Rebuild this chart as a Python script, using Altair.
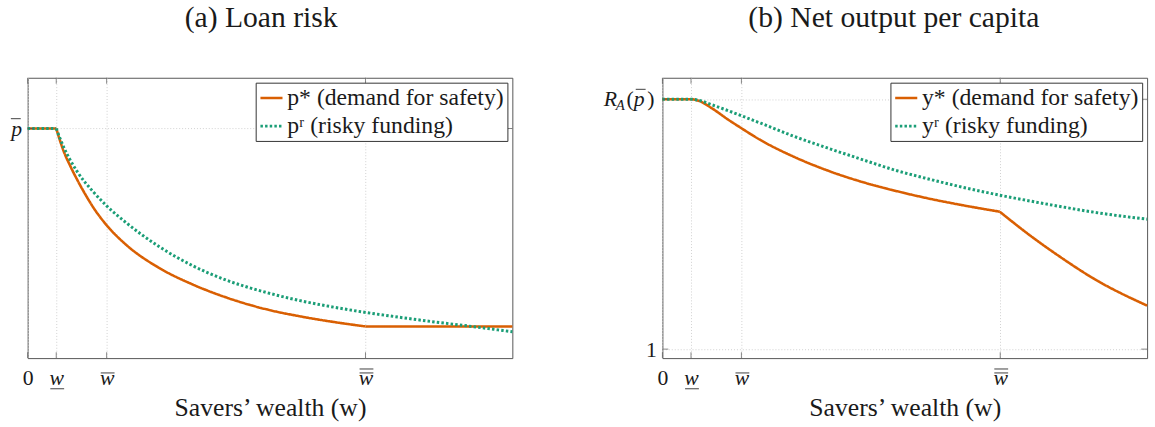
import json
import altair as alt
import pandas as pd

FONT = "Liberation Serif"
ORANGE = "#d95f02"
GREEN = "#1b9e77"
FRAME = "#555555"
GRID = "#d0d0d0"
TXT = "#1a1a1a"
W, H = 491, 284

# ---- shared x axis (savers' wealth) ----
x_tick_values = [0, 0.59, 1.63, 6.97]
x_tick_labels = ["0", "w", "w", "w"]
x_underlined = [0.59]          # w  (underline)
x_overlined = [1.63, 6.97]     # w̄ and w̿ (first bar)
x_double_overlined = [6.97]    # w̿ (second bar)
x_title = "Savers\u2019 wealth (w)"

# ---- panel (a) Loan risk ----
a_series = ["p* (demand for safety)", "p\u02B3 (risky funding)"]
a_star_x = [0, 0.59, 0.75, 0.88, 1.02, 1.19, 1.36, 1.63, 2.04, 2.71, 3.40, 4.07, 4.95, 5.62, 6.31, 6.97, 10]
a_star_y = [81.9, 81.9, 73.5, 68.5, 63.7, 58.4, 53.6, 47.4, 40.3, 32.2, 26.3, 21.8, 17.3, 14.9, 12.9, 11.3, 11.3]
a_star_kinks = [0.59, 6.97]
a_r_x = [0, 0.59, 0.75, 0.88, 1.02, 1.36, 1.63, 2.04, 2.71, 3.40, 4.07, 4.95, 5.62, 6.31, 6.97, 7.66, 8.35, 9.02, 10]
a_r_y = [81.9, 81.9, 75.0, 70.6, 66.6, 59.2, 54.3, 48.2, 39.8, 33.0, 28.0, 23.3, 20.5, 18.2, 16.3, 14.6, 13.0, 11.6, 9.4]
a_r_kinks = [0.59]
a_y_domain = [0, 100]
a_y_tick_values = [81.9]
a_y_tick_labels = ["p"]        # p̄ (bar drawn as a tick mark)

# ---- panel (b) Net output per capita ----
b_series = ["y* (demand for safety)", "y\u02B3 (risky funding)"]
b_x = [0, 0.59, 0.75, 1.02, 1.36, 1.63, 2.03, 2.71, 3.39, 4.07, 4.84, 5.51, 6.19, 6.96, 7.55, 8.23, 8.90, 10]
b_star_y = [1.5, 1.5, 1.497, 1.482, 1.459, 1.442, 1.418, 1.385, 1.358, 1.336, 1.316, 1.301, 1.288, 1.275, 1.230, 1.183, 1.141, 1.087]
b_star_kinks = [6.96]
b_r_y = [1.5, 1.5, 1.498, 1.489, 1.477, 1.467, 1.452, 1.426, 1.403, 1.381, 1.357, 1.340, 1.324, 1.308, 1.297, 1.285, 1.274, 1.260]
b_r_kinks = []
b_y_domain = [0.982, 1.543]
b_y_tick_values = [1.0, 1.5]
b_y_tick_labels = ["1", ""]    # R_A(p̄) is typeset with text marks


def lab_expr(values, labels):
    return "%s[indexof(%s, datum.value)]" % (json.dumps(labels, ensure_ascii=False), json.dumps(values))


def segments(xs, ys, kinks, name):
    rows, seg = [], 0
    for i, (x, y) in enumerate(zip(xs, ys)):
        rows.append({"x": x, "y": y, "s": name, "g": "%s-%d" % (name, seg), "o": i})
        if x in kinks:
            seg += 1
            rows.append({"x": x, "y": y, "s": name, "g": "%s-%d" % (name, seg), "o": i})
    return pd.DataFrame(rows)


def make_panel(title, title_dx, star, risky, series, ydom, yvals, ylabs, yitalic, extra):
    df = pd.concat([segments(*star, series[0]), segments(*risky, series[1])])
    x_axis = alt.Axis(
        values=x_tick_values, labelExpr=lab_expr(x_tick_values, x_tick_labels),
        labelFont=FONT, labelFontSize=22, labelColor=TXT, labelPadding=10, labelFlush=False,
        labelOverlap=False,
        labelFontStyle={"condition": {"test": "datum.value === 0", "value": "normal"}, "value": "italic"},
        ticks=False, domain=False, grid=True, gridColor=GRID, gridDash=[1, 2], gridWidth=1,
        titleFont=FONT, titleFontSize=26, titleFontWeight="normal", titleColor=TXT, titlePadding=6,
    )
    y_axis = alt.Axis(
        values=yvals, labelExpr=lab_expr(yvals, ylabs),
        labelFont=FONT, labelFontSize=22, labelColor=TXT, labelPadding=6, labelFlush=False,
        labelOverlap=False, labelFontStyle="italic" if yitalic else "normal",
        ticks=False, domain=False, grid=True, gridColor=GRID, gridDash=[1, 2], gridWidth=1,
    )
    X = alt.X("x:Q", scale=alt.Scale(domain=[0, 10], nice=False, zero=False), axis=x_axis, title=x_title)
    Y = alt.Y("y:Q", scale=alt.Scale(domain=ydom, nice=False, zero=False), axis=y_axis, title=None)
    leg = alt.Legend(
        title=None, orient="top-right", offset=5, strokeColor="#333333", fillColor="white",
        padding=3, labelFont=FONT, labelFontSize=24, labelColor=TXT, symbolType="stroke",
        symbolStrokeWidth=3, symbolSize=500, rowPadding=3, labelLimit=0, cornerRadius=0,
        labelOffset=3,
    )
    lines = alt.Chart(df).mark_line(interpolate="monotone").encode(
        x=X, y=Y, order="o:Q", detail="g:N",
        color=alt.Color("s:N", scale=alt.Scale(domain=series, range=[ORANGE, GREEN]), legend=leg),
        strokeDash=alt.StrokeDash("s:N", scale=alt.Scale(domain=series, range=[[1, 0], [2.5, 2.2]]), legend=leg),
        strokeWidth=alt.StrokeWidth("s:N", scale=alt.Scale(domain=series, range=[2.6, 3]), legend=None),
    )
    xt = pd.DataFrame({"x": x_tick_values})
    yt = pd.DataFrame({"y": yvals})
    tk = dict(size=6, thickness=1, color=FRAME)
    bottom = alt.Chart(xt).mark_tick(orient="vertical", **tk).encode(x=X, y=alt.value(H - 3))
    top = alt.Chart(xt).mark_tick(orient="vertical", **tk).encode(x=X, y=alt.value(3))
    left = alt.Chart(yt).mark_tick(orient="horizontal", **tk).encode(y=Y, x=alt.value(3))
    right = alt.Chart(yt).mark_tick(orient="horizontal", **tk).encode(y=Y, x=alt.value(W - 3))
    bar = dict(orient="horizontal", size=14, thickness=1.2, color=TXT)
    under = alt.Chart(pd.DataFrame({"x": x_underlined})).mark_tick(xOffset=1, **bar).encode(x=X, y=alt.value(H + 31))
    over1 = alt.Chart(pd.DataFrame({"x": x_overlined})).mark_tick(xOffset=1, **bar).encode(x=X, y=alt.value(H + 15))
    over2 = alt.Chart(pd.DataFrame({"x": x_double_overlined})).mark_tick(xOffset=1, **bar).encode(x=X, y=alt.value(H + 11))
    layers = [lines, bottom, top, left, right, under, over1, over2] + extra(Y)
    return alt.layer(*layers).properties(
        width=W, height=H,
        title=alt.TitleParams(title, font=FONT, fontSize=30, fontWeight="normal", color=TXT,
                              anchor="middle", offset=45, dx=title_dx),
    )


def pbar_left(Y):
    # bar over the p of the left y-axis label
    return [alt.Chart(pd.DataFrame({"y": a_y_tick_values})).mark_tick(
        orient="horizontal", size=10, thickness=1.2, color=TXT, yOffset=-10).encode(y=Y, x=alt.value(-12))]


def ra_label(Y):
    rdf = pd.DataFrame({"y": [b_y_tick_values[1]]})
    parts = [("R", -46, 22, "italic", 0), ("A", -38, 15, "italic", 6),
             ("(", -29, 22, "normal", 0), ("p", -18, 22, "italic", 0), (")", -8, 22, "normal", 0)]
    out = []
    for txt, xp, fs, st, dy in parts:
        out.append(alt.Chart(rdf).mark_text(text=txt, font=FONT, fontSize=fs, fontStyle=st, align="right",
                                            baseline="middle", dy=dy, color=TXT).encode(y=Y, x=alt.value(xp)))
    out.append(alt.Chart(rdf).mark_tick(orient="horizontal", size=10, thickness=1.2, color=TXT,
                                        yOffset=-10).encode(y=Y, x=alt.value(-22)))
    return out


pa = make_panel("(a) Loan risk", -9, (a_star_x, a_star_y, a_star_kinks), (a_r_x, a_r_y, a_r_kinks),
                a_series, a_y_domain, a_y_tick_values, a_y_tick_labels, True, pbar_left)
pb = make_panel("(b) Net output per capita", -11, (b_x, b_star_y, b_star_kinks), (b_x, b_r_y, b_r_kinks),
                b_series, b_y_domain, b_y_tick_values, b_y_tick_labels, False, ra_label)

chart = alt.hconcat(pa, pb, spacing=85).resolve_scale(
    x="independent", y="independent", color="independent", strokeDash="independent", strokeWidth="independent"
).resolve_legend(color="independent", strokeDash="independent").properties(
    padding={"left": 10, "right": 1, "top": 0, "bottom": 2}, background="white"
).configure_view(stroke=FRAME, strokeWidth=1)

chart.save("out.html", embed_options={"renderer": "svg", "actions": False})
